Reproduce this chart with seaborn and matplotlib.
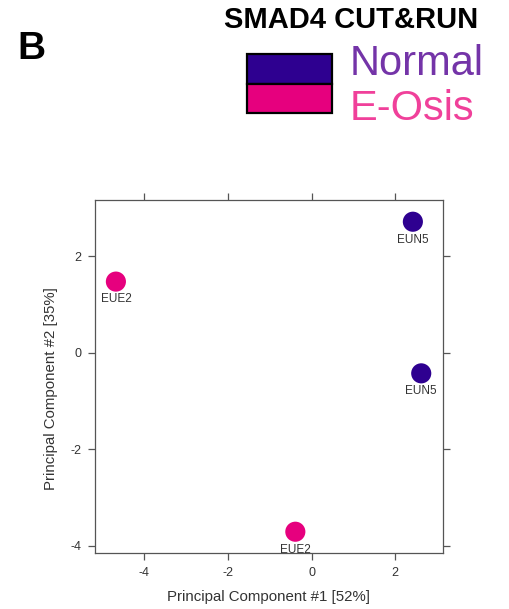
import matplotlib
matplotlib.use("Agg")
import matplotlib.pyplot as plt
import seaborn as sns
import pandas as pd
from matplotlib.patches import Rectangle

# ---- data ----
samples = ["EUE2", "EUE2", "EUN5", "EUN5"]
groups = ["E-Osis", "E-Osis", "Normal", "Normal"]
pc1 = [-4.68, -0.39, 2.42, 2.62]
pc2 = [1.47, -3.71, 2.71, -0.43]
group_order = ["Normal", "E-Osis"]
marker_colors = ["#2E0090", "#E6007E"]
legend_text_colors = ["#7434A8", "#F0409A"]
ticks = [-4, -2, 0, 2]

df = pd.DataFrame({"sample": samples, "group": groups, "PC1": pc1, "PC2": pc2})

sns.set_theme(style="white")
plt.rcParams["font.family"] = ["Liberation Sans", "DejaVu Sans"]

fig = plt.figure(figsize=(5.09, 6.09), dpi=100)
ax = fig.add_axes([0.1866, 0.0920, 0.6837, 0.5796])

sns.scatterplot(data=df, x="PC1", y="PC2", hue="group", hue_order=group_order,
                palette=dict(zip(group_order, marker_colors)), s=210,
                linewidth=0, legend=False, ax=ax, zorder=3)

for _, r in df.iterrows():
    ax.annotate(r["sample"], (r["PC1"], r["PC2"]), xytext=(0, -8.5),
                textcoords="offset points", ha="center", va="top",
                fontsize=8.5, color="#333333", zorder=4)

ax.set_xlim(-5.18, 3.14)
ax.set_ylim(-4.15, 3.16)
ax.set_xticks(ticks)
ax.set_yticks(ticks)
ax.set_xticklabels([str(t) for t in ticks])
ax.set_yticklabels([str(t) for t in ticks])
ax.tick_params(axis="both", which="both", direction="out", length=5,
               width=0.9, color="#555555", labelsize=9, labelcolor="#333333",
               pad=5, top=True, right=True, bottom=True, left=True,
               labeltop=False, labelright=False)
for sp in ax.spines.values():
    sp.set_color("#555555")
    sp.set_linewidth(0.9)
    sp.set_visible(True)

ax.set_xlabel("Principal Component #1 [52%]", fontsize=10.8, color="#333333",
              va="center")
ax.set_ylabel("Principal Component #2 [35%]", fontsize=10.8, color="#333333",
              va="center")
ax.xaxis.set_label_coords(0.5, -0.125)
ax.yaxis.set_label_coords(-0.126, 0.467)

# ---- header ----
W, H = 509, 609
fig.text(31.6 / W, 1 - 49 / H, "B", fontsize=28, fontweight="bold",
         ha="center", va="center", color="black")
fig.text(351 / W, 1 - 20 / H, "SMAD4 CUT&RUN", fontsize=21,
         fontweight="bold", ha="center", va="center", color="black")

rect_x0, rect_x1 = 247, 332
rows = [(54, 84), (84, 113)]
for (y0, y1), col in zip(rows, marker_colors):
    fig.patches.append(Rectangle((rect_x0 / W, 1 - y1 / H),
                                 (rect_x1 - rect_x0) / W, (y1 - y0) / H,
                                 transform=fig.transFigure, facecolor=col,
                                 edgecolor="black", linewidth=1.6))
fig.text(350 / W, 1 - 64 / H, group_order[0], fontsize=30,
         color=legend_text_colors[0], ha="left", va="center")
fig.text(350 / W, 1 - 109 / H, group_order[1], fontsize=30,
         color=legend_text_colors[1], ha="left", va="center")

fig.savefig("out.png", dpi=100, facecolor="white")
